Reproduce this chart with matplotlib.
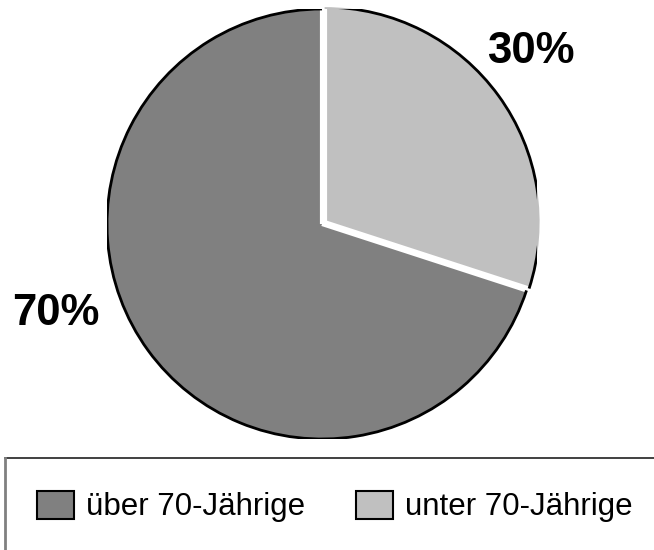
import matplotlib
matplotlib.use("Agg")
import matplotlib.pyplot as plt
from matplotlib.patches import Arc, Patch
from matplotlib.lines import Line2D
from matplotlib import font_manager
import numpy as np

plt.rcParams['font.family'] = ['Liberation Sans', 'DejaVu Sans']

categories = ["über 70-Jährige", "unter 70-Jährige"]
values = [70, 30]
pct_labels = ["70%", "30%"]
colors = ["#808080", "#c0c0c0"]

W, H = 654, 550
fig = plt.figure(figsize=(W / 100, H / 100), dpi=100)

cx, cy, r = 322, 224, 215
ax = fig.add_axes([(cx - r) / W, (H - cy - r) / H, 2 * r / W, 2 * r / H])
ax.axis("off")

# light slice starts at 12 o'clock and runs clockwise
order = [1, 0]
wedges, _ = ax.pie([values[i] for i in order], colors=[colors[i] for i in order],
                   startangle=90, counterclock=False, radius=1,
                   explode=[0.015, 0.0],
                   wedgeprops=dict(linewidth=0))
ax.set_xlim(-1, 1)
ax.set_ylim(-1, 1)
ax.set_aspect("auto")
for w in wedges:
    x0, y0 = w.center
    for th in (w.theta1, w.theta2):
        t = np.deg2rad(th)
        ax.plot([x0, x0 + w.r * np.cos(t)], [y0, y0 + w.r * np.sin(t)],
                color="white", linewidth=3, solid_capstyle="butt", zorder=4)
for w in wedges:
    arc = Arc(w.center, 2 * w.r, 2 * w.r, theta1=w.theta1, theta2=w.theta2,
              color="black", linewidth=2, zorder=5)
    ax.add_patch(arc)

ax.text(0.972, 0.804, pct_labels[1], ha="center", va="center",
        fontsize=31.5, fontweight="bold", clip_on=False)
ax.text(-1.237, -0.414, pct_labels[0], ha="center", va="center",
        fontsize=31.5, fontweight="bold", clip_on=False)

# legend frame (extends beyond right and bottom of the figure)
top = 1 - 458 / H
left = 5.5 / W
fig.add_artist(Line2D([left, 1.0], [top, top], transform=fig.transFigure,
                      color="#202020", linewidth=1.2))
fig.add_artist(Line2D([left, left], [0, top], transform=fig.transFigure,
                      color="#808080", linewidth=2))

names = {f.name for f in font_manager.fontManager.ttflist}
if "Liberation Sans Narrow" in names:
    lprop = font_manager.FontProperties(family=["Liberation Sans Narrow", "Liberation Sans"], size=27)
    hl, ht, cs = 0.99, 0.3, 1.38
else:
    lprop = font_manager.FontProperties(family=["Liberation Sans"], size=22.5)
    hl, ht, cs = 1.18, 0.38, 1.65

handles = [Patch(facecolor=c, edgecolor="black", linewidth=1.5) for c in colors]
fig.legend(handles, categories, loc="center left",
           bbox_to_anchor=(37 / W, 1 - 506.5 / H), ncol=2, frameon=False,
           prop=lprop, handlelength=hl, handleheight=31 / (lprop.get_size() * 100 / 72),
           handletextpad=ht, columnspacing=cs, borderpad=0, borderaxespad=0)

fig.savefig("out.png", dpi=100)
